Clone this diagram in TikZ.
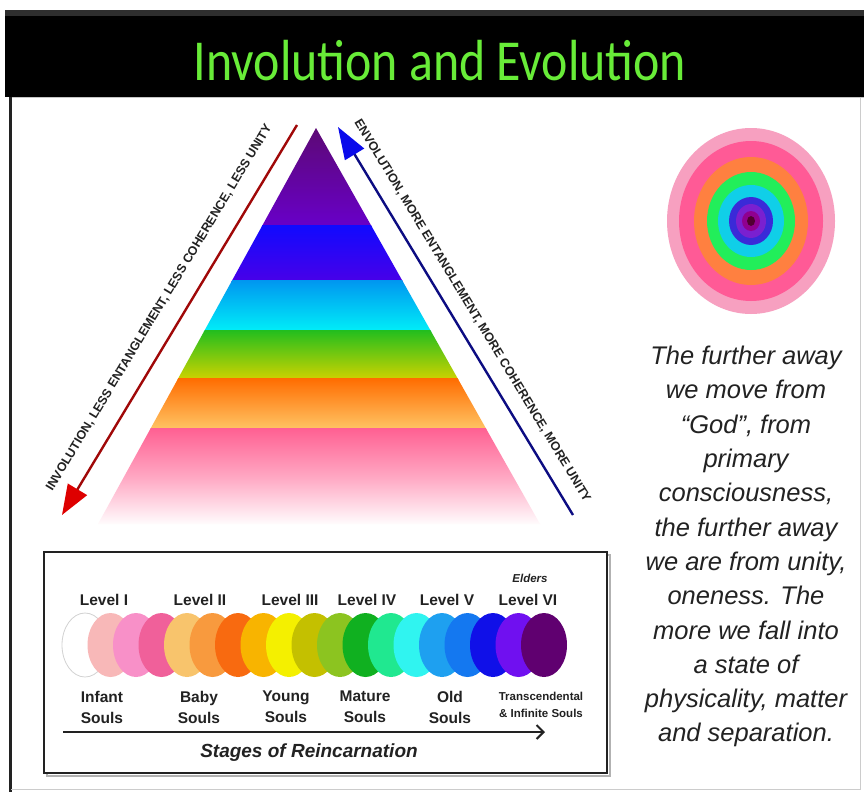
\documentclass[tikz,border=0pt]{standalone}
\usepackage{graphicx}
\usepackage{fontspec}
\setmainfont{Liberation Sans}
\newfontfamily\titlefont{Carlito}
\usetikzlibrary{arrows.meta, positioning}

\definecolor{titlegreen}{RGB}{104,236,56}
\definecolor{inkgray}{RGB}{34,34,34}
\definecolor{invred}{RGB}{160,8,8}
\definecolor{invhead}{RGB}{222,0,0}
\definecolor{evoblue}{RGB}{12,12,130}
\definecolor{evohead}{RGB}{10,10,235}
% pyramid bands
\definecolor{pyrA}{RGB}{92,10,110}
\definecolor{pyrB}{RGB}{104,0,200}
\definecolor{pyrC}{RGB}{16,10,255}
\definecolor{pyrD}{RGB}{72,0,232}
\definecolor{pyrE}{RGB}{0,150,240}
\definecolor{pyrF}{RGB}{0,238,248}
\definecolor{pyrG}{RGB}{34,190,30}
\definecolor{pyrH}{RGB}{205,210,0}
\definecolor{pyrI}{RGB}{255,108,0}
\definecolor{pyrJ}{RGB}{255,196,100}
\definecolor{pyrK}{RGB}{255,96,146}
% rings
\definecolor{ringA}{RGB}{247,160,192}
\definecolor{ringB}{RGB}{255,90,150}
\definecolor{ringC}{RGB}{255,128,64}
\definecolor{ringD}{RGB}{34,238,90}
\definecolor{ringE}{RGB}{16,207,232}
\definecolor{ringF}{RGB}{58,42,216}
\definecolor{ringG}{RGB}{122,32,208}
\definecolor{ringH}{RGB}{144,0,144}
\definecolor{ringI}{RGB}{80,0,48}
% soul circles
\definecolor{soulB}{RGB}{248,184,184}
\definecolor{soulC}{RGB}{248,144,200}
\definecolor{soulD}{RGB}{240,96,154}
\definecolor{soulE}{RGB}{248,196,108}
\definecolor{soulF}{RGB}{248,154,62}
\definecolor{soulG}{RGB}{248,106,16}
\definecolor{soulH}{RGB}{248,180,0}
\definecolor{soulI}{RGB}{244,240,0}
\definecolor{soulJ}{RGB}{196,192,0}
\definecolor{soulK}{RGB}{140,196,32}
\definecolor{soulL}{RGB}{16,176,32}
\definecolor{soulM}{RGB}{32,232,144}
\definecolor{soulN}{RGB}{48,244,240}
\definecolor{soulO}{RGB}{30,160,240}
\definecolor{soulP}{RGB}{20,120,240}
\definecolor{soulQ}{RGB}{16,16,232}
\definecolor{soulR}{RGB}{112,16,240}
\definecolor{soulS}{RGB}{96,0,112}

\begin{document}
\begin{tikzpicture}[x=1pt, y=-1pt,
  slopetext/.style={font=\bfseries\fontsize{12.5}{14}\selectfont, text=inkgray, inner sep=0pt},
  bodytext/.style={font=\itshape\fontsize{25.5}{34.3}\selectfont, text=inkgray, align=center, inner sep=0pt},
  lvltext/.style={font=\bfseries\fontsize{15.5}{18}\selectfont, text=inkgray, inner sep=0pt, anchor=base},
  soultext/.style={font=\bfseries\fontsize{15.5}{21}\selectfont, text=inkgray, align=center, inner sep=0pt, anchor=north},
  soulsmall/.style={font=\bfseries\fontsize{11.5}{17}\selectfont, text=inkgray, align=center, inner sep=0pt, anchor=north},
  invarrow/.style={draw=invred, line width=2.4pt, -{Triangle[length=30pt, width=22pt, fill=invhead, color=invhead]}},
  evoarrow/.style={draw=evoblue, line width=2.4pt, -{Triangle[length=32pt, width=22pt, fill=evohead, color=evohead]}}
]
  \useasboundingbox (0,0) rectangle (864,792);
  \fill[white] (0,0) rectangle (864,792);

  % title band and frame
  \fill[black] (5,10) rectangle (864,97);
  \fill[black!82] (5,10) rectangle (864,16);
  \draw[gray!45, line width=1pt] (10,97) -- (864,97);
  \draw[inkgray, line width=3pt] (10,97) -- (10,792);
  \draw[gray!40, line width=1pt] (11,789) -- (860,789) -- (860,98);
  \node[font=\titlefont\fontsize{58}{60}\selectfont, text=titlegreen, inner sep=0pt] (title) at (440,61)
    {\scalebox{0.86}[1]{Involution and Evolution}};

  % pyramid
  \coordinate (apex) at (316,128);
  \coordinate (baseL) at (98,524);
  \coordinate (baseR) at (540,524);
  \begin{scope}
    \clip (apex) -- (baseL) -- (baseR) -- cycle;
    \shade[top color=pyrA, bottom color=pyrB] (90,120) rectangle (550,226);
    \shade[top color=pyrC, bottom color=pyrD] (90,225) rectangle (550,281);
    \shade[top color=pyrE, bottom color=pyrF] (90,280) rectangle (550,331);
    \shade[top color=pyrG, bottom color=pyrH] (90,330) rectangle (550,379);
    \shade[top color=pyrI, bottom color=pyrJ] (90,378) rectangle (550,429);
    \shade[top color=pyrK, bottom color=white, middle color=pyrK!55] (90,428) rectangle (550,526);
  \end{scope}

  % involution / evolution arrows
  \coordinate (invtail) at (297,125);
  \coordinate (invtip) at (62,515);
  \coordinate (evotail) at (573,515);
  \coordinate (evotip) at (338,127);
  \draw[invarrow] (invtail) -- (invtip);
  \draw[evoarrow] (evotail) -- (evotip);
  \path (invtip) -- (invtail) node[slopetext, midway, sloped, above=18pt] (invlabel)
    {INVOLUTION, LESS ENTANGLEMENT, LESS COHERENCE, LESS UNITY};
  \path (evotip) -- (evotail) node[slopetext, midway, sloped, above=14pt] (evolabel)
    {ENVOLUTION, MORE ENTANGLEMENT, MORE COHERENCE, MORE UNITY};

  % concentric rings
  \foreach \col/\rx/\ry in {ringA/84/93, ringB/72/80, ringC/57/64, ringD/44/49, ringE/33/36,
      ringF/22/24, ringG/15/17, ringH/9/10, ringI/4/5}
    \fill[\col] (751,221) ellipse [x radius=\rx pt, y radius=\ry pt];

  \node[bodytext, anchor=north] (godtext) at (746,346) {The further away\\we move from\\“God”, from\\primary\\consciousness,\\the further away\\we are from unity,\\oneness. The\\more we fall into\\a state of\\physicality, matter\\and separation.};

  % stages box
  \draw[gray!60, line width=2pt] (47,555) rectangle (610,776);
  \draw[inkgray, line width=2.5pt, fill=white] (44,552) rectangle (607,773);

  \node[lvltext] (lvlI) at (104,605) {Level I};
  \node[lvltext] (lvlII) at (200,605) {Level II};
  \node[lvltext] (lvlIII) at (290,605) {Level III};
  \node[lvltext] (lvlIV) at (367,605) {Level IV};
  \node[lvltext] (lvlV) at (447,605) {Level V};
  \node[lvltext] (lvlVI) at (528,605) {Level VI};
  \node[lvltext, font=\bfseries\itshape\fontsize{11.5}{13}\selectfont] (elders) at (530,582) {Elders};

  \draw[gray!35, fill=white, line width=0.8pt] (85,645) ellipse [x radius=23pt, y radius=32pt];
  \foreach \col [count=\i] in {soulB,soulC,soulD,soulE,soulF,soulG,soulH,soulI,soulJ,
      soulK,soulL,soulM,soulN,soulO,soulP,soulQ,soulR,soulS}
    \fill[\col] ({85+25.5*\i},645) ellipse [x radius=23pt, y radius=32pt];

  \node[soultext] (infant) at (102,691) {Infant\\Souls};
  \node[soultext] (baby) at (199,691) {Baby\\Souls};
  \node[soultext] (young) at (286,691) {Young\\Souls};
  \node[soultext] (mature) at (365,691) {Mature\\Souls};
  \node[soultext] (old) at (450,691) {Old\\Souls};
  \node[soulsmall] (transc) at (541,692) {Transcendental\\\& Infinite Souls};

  \coordinate (stagestart) at (63,732);
  \coordinate (stageend) at (545,732);
  \draw[inkgray, line width=2pt, -{Straight Barb[length=7pt, width=14pt]}] (stagestart) -- (stageend);
  \node[font=\bfseries\itshape\fontsize{19}{21}\selectfont, text=inkgray, inner sep=0pt, anchor=base]
    (stages) at (309,757) {Stages of Reincarnation};
\end{tikzpicture}
\end{document}
